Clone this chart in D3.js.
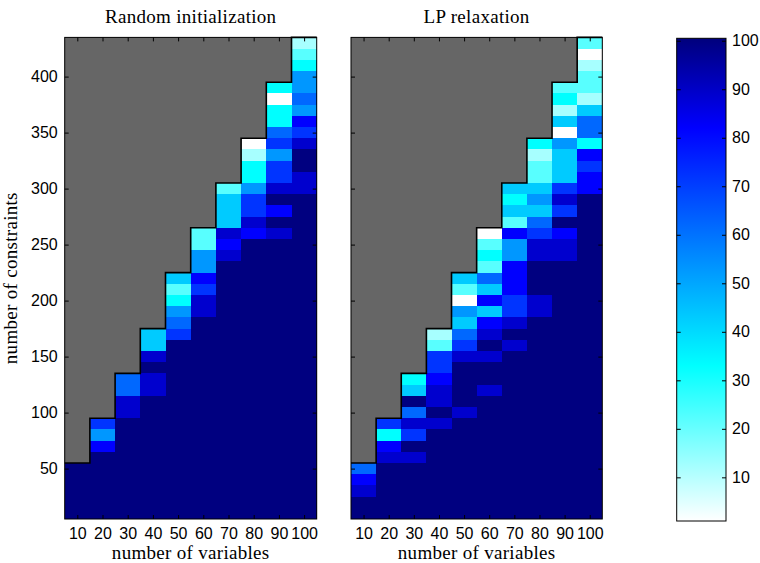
<!DOCTYPE html>
<html>
<head>
<meta charset="utf-8">
<script src="https://cdn.jsdelivr.net/npm/d3@7/dist/d3.min.js"></script>
<style>
body{margin:0;background:#fff}
svg{display:block}
</style>
</head>
<body>
<div id="chart"></div>
<script>
const variables = [10,20,30,40,50,60,70,80,90,100]
const yTicks = [50,100,150,200,250,300,350,400]
const cbarTicks = [10,20,30,40,50,60,70,80,90,100]
const titles = ["Random initialization","LP relaxation"]

// one array per number of variables, rows from 10 constraints upward (step 10)
const randomInit = [
  [100,100,100,100,100],
  [100,100,100,100,100,100,82,53,72],
  [100,100,100,100,100,100,100,100,100,89,89,62,62],
  [100,100,100,100,100,100,100,100,100,100,100,89,89,100,89,43,43],
  [100,100,100,100,100,100,100,100,100,100,100,100,100,100,100,100,72,62,53,33,22,43],
  [100,100,100,100,100,100,100,100,100,100,100,100,100,100,100,100,100,100,89,89,72,82,53,53,22,22],
  [100,100,100,100,100,100,100,100,100,100,100,100,100,100,100,100,100,100,100,100,100,100,100,89,82,89,43,43,43,22],
  [100,100,100,100,100,100,100,100,100,100,100,100,100,100,100,100,100,100,100,100,100,100,100,100,100,82,89,72,72,53,33,33,12,1],
  [100,100,100,100,100,100,100,100,100,100,100,100,100,100,100,100,100,100,100,100,100,100,100,100,100,89,100,82,100,89,72,72,53,72,62,33,33,1,33],
  [100,100,100,100,100,100,100,100,100,100,100,100,100,100,100,100,100,100,100,100,100,100,100,100,100,100,100,100,100,89,89,100,100,89,72,82,53,62,53,53,33,22,12]
]
const lpRelax = [
  [100,100,89,82,62],
  [100,100,100,100,100,89,82,33,72],
  [100,100,100,100,100,89,100,72,89,62,100,43,33],
  [100,100,100,100,100,100,100,100,89,100,89,89,82,72,72,22,12],
  [100,100,100,100,100,100,100,100,100,89,100,100,100,100,89,72,62,43,53,1,22,43],
  [100,100,100,100,100,100,100,100,100,100,100,89,100,100,89,100,89,82,43,82,43,62,22,33,22,1],
  [100,100,100,100,100,100,100,100,100,100,100,100,100,100,100,89,100,89,72,72,82,82,82,53,53,82,22,43,33,43],
  [100,100,100,100,100,100,100,100,100,100,100,100,100,100,100,100,100,100,89,89,100,100,100,89,89,72,62,43,53,43,22,22,12,33],
  [100,100,100,100,100,100,100,100,100,100,100,100,100,100,100,100,100,100,100,100,100,100,100,89,89,82,100,72,89,72,43,43,43,53,1,43,12,33,22],
  [100,100,100,100,100,100,100,100,100,100,100,100,100,100,100,100,100,100,100,100,100,100,100,100,100,100,100,100,100,82,82,72,82,33,62,62,43,12,22,22,12,1,22]
]

const W = 760, H = 563
const plotTop = 37.4, plotBottom = 519
const tickFont = "'Liberation Sans', Arial, Helvetica, sans-serif"
const serifFont = "'Liberation Serif', 'Times New Roman', serif"

const svg = d3.select("#chart").append("svg").attr("width", W).attr("height", H)

const color = d3.scaleLinear()
  .domain([1, 33, 82, 100])
  .range(["#ffffff", "#00ffff", "#0000ff", "#000080"])
  .clamp(true)

const y = d3.scaleLinear().domain([5, 435]).range([plotBottom, plotTop])

function styleAxis(g){
  g.attr("font-family", tickFont).attr("font-size", 16)
  g.selectAll(".domain").remove()
  g.selectAll(".tick line").attr("stroke", "#000")
  g.selectAll(".tick text").attr("fill", "#000")
}

function serifLabel(sel){
  sel.attr("text-anchor", "middle")
    .attr("font-family", serifFont)
    .attr("font-size", 19)
    .attr("letter-spacing", 0.3)
}

function drawPanel(x0, x1, data, title, showYLabels){
  const x = d3.scaleLinear().domain([5, 105]).range([x0, x1])
  const g = svg.append("g")

  // gray background = infeasible region
  g.append("rect")
    .attr("x", x0).attr("y", plotTop)
    .attr("width", x1 - x0).attr("height", plotBottom - plotTop)
    .attr("fill", "#666666")

  const cells = data.flatMap((col, i) => col.map((v, j) => ({n: variables[i], m: (j + 1) * 10, v})))
  g.selectAll("rect.cell").data(cells).join("rect")
    .attr("class", "cell")
    .attr("x", d => x(d.n - 5))
    .attr("y", d => y(d.m + 5))
    .attr("width", d => x(d.n + 5) - x(d.n - 5))
    .attr("height", d => y(d.m - 5) - y(d.m + 5))
    .attr("fill", d => color(d.v))
    .attr("shape-rendering", "crispEdges")

  // staircase border
  const tops = data.map(col => col.length * 10 + 5)
  const p = d3.path()
  p.moveTo(x(5), y(tops[0]))
  tops.forEach((t, i) => {
    p.lineTo(x(variables[i] - 5), y(t))
    p.lineTo(x(variables[i] + 5), y(t))
  })
  g.append("path").attr("d", p.toString())
    .attr("fill", "none").attr("stroke", "#000").attr("stroke-width", 1.6)

  g.append("g").attr("transform", `translate(0,${plotBottom})`)
    .call(d3.axisBottom(x).tickValues(variables).tickSize(-4).tickPadding(9))
    .call(styleAxis)
  g.append("g").attr("transform", `translate(0,${plotTop})`)
    .call(d3.axisTop(x).tickValues(variables).tickSize(-4).tickFormat(""))
    .call(styleAxis)
  g.append("g").attr("transform", `translate(${x0},0)`)
    .call(d3.axisLeft(y).tickValues(yTicks).tickSize(-4).tickPadding(7).tickFormat(showYLabels ? d3.format("d") : ""))
    .call(styleAxis)
  g.append("g").attr("transform", `translate(${x1},0)`)
    .call(d3.axisRight(y).tickValues(yTicks).tickSize(-4).tickFormat(""))
    .call(styleAxis)

  g.append("rect")
    .attr("x", x0).attr("y", plotTop)
    .attr("width", x1 - x0).attr("height", plotBottom - plotTop)
    .attr("fill", "none").attr("stroke", "#000").attr("stroke-width", 1)

  const cx = (x0 + x1) / 2
  svg.append("text").attr("x", cx).attr("y", 23).call(serifLabel).text(title)
  svg.append("text").attr("x", cx).attr("y", 559).call(serifLabel).text("number of variables")
}

drawPanel(64.7, 316.7, randomInit, titles[0], true)
drawPanel(351, 602.3, lpRelax, titles[1], false)

svg.append("text")
  .attr("transform", `translate(17,${(plotTop + plotBottom) / 2}) rotate(-90)`)
  .call(serifLabel)
  .text("number of constraints")

// colorbar
const cbX0 = 676.7, cbX1 = 726, cbTop = 38.3, cbBottom = 521
const cb = d3.scaleLinear().domain([1, 100.5]).range([cbBottom, cbTop])
const grad = svg.append("defs").append("linearGradient")
  .attr("id", "cbgrad").attr("x1", 0).attr("y1", 1).attr("x2", 0).attr("y2", 0)
grad.selectAll("stop").data([1, 33, 82, 100, 100.5]).join("stop")
  .attr("offset", d => (d - 1) / 99.5)
  .attr("stop-color", d => color(d))
svg.append("rect")
  .attr("x", cbX0).attr("y", cbTop).attr("width", cbX1 - cbX0).attr("height", cbBottom - cbTop)
  .attr("fill", "url(#cbgrad)")
svg.append("g").attr("transform", `translate(${cbX1},0)`)
  .call(d3.axisRight(cb).tickValues(cbarTicks).tickSize(-4).tickPadding(6))
  .call(styleAxis)
svg.append("g").attr("transform", `translate(${cbX0},0)`)
  .call(d3.axisLeft(cb).tickValues(cbarTicks).tickSize(-4).tickFormat(""))
  .call(styleAxis)
svg.append("rect")
  .attr("x", cbX0).attr("y", cbTop).attr("width", cbX1 - cbX0).attr("height", cbBottom - cbTop)
  .attr("fill", "none").attr("stroke", "#000").attr("stroke-width", 1)
</script>
</body>
</html>
